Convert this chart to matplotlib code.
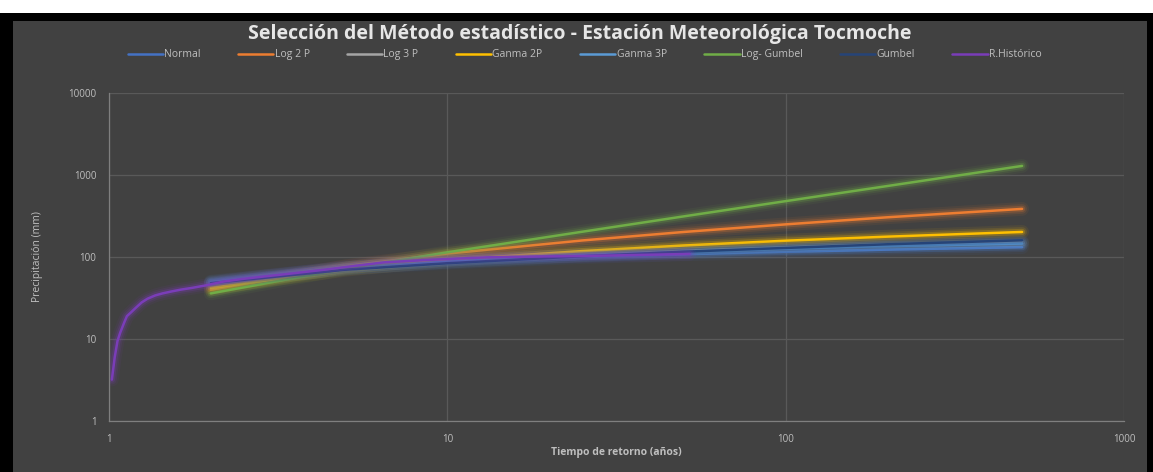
import numpy as np
import matplotlib.pyplot as plt
from matplotlib.patches import Rectangle
from matplotlib.ticker import FixedLocator, NullLocator

# periodos de retorno (años)
T = [2, 5, 10, 25, 50, 100, 200, 500]

# precipitacion maxima por metodo (mm)
normal     = [50, 74, 86, 100, 108, 116, 123, 132]
log2p      = [40, 77, 110, 159, 202, 250, 305, 386]
log3p      = [48, 72, 88, 106, 119, 131, 143, 152]
ganma2p    = [42, 70, 92, 118, 138, 158, 177, 202]
ganma3p    = [49, 73, 88, 104, 115, 126, 136, 146]
log_gumbel = [36, 72, 114, 203, 313, 480, 734, 1290]
gumbel     = [48, 70, 84, 102, 116, 129, 143, 160]

# registro historico (posicion de Weibull)
T_hist = [1.02, 1.04, 1.06, 1.08, 1.11, 1.13, 1.16, 1.20, 1.25, 1.30, 1.37,
          1.44, 1.53, 1.63, 1.76, 1.93, 2.17, 2.48, 2.89, 3.47, 4.33, 5.20,
          6.50, 8.67, 13.0, 17.3, 26.0, 52.0]
P_hist = [3.2, 6, 9.5, 12, 16, 19, 21, 24, 28, 31, 34,
          36, 38, 40, 42, 45, 50, 54, 58, 63, 70, 77,
          86, 92, 99, 101, 103, 109]

series = [
    ('Normal',      T, normal,     '#4472C4'),
    ('Log 2 P',     T, log2p,      '#ED7D31'),
    ('Log 3 P',     T, log3p,      '#A5A5A5'),
    ('Ganma 2P',    T, ganma2p,    '#FFC000'),
    ('Ganma 3P',    T, ganma3p,    '#5B9BD5'),
    ('Log- Gumbel', T, log_gumbel, '#70AD47'),
    ('Gumbel',      T, gumbel,     '#264478'),
    ('R.Histórico', T_hist, P_hist, '#7A3DB8'),
]

plt.rcParams['font.family'] = ['Open Sans', 'DejaVu Sans']

bg = '#414141'
txt = '#BFBFBF'

fig = plt.figure(figsize=(11.53, 4.72), dpi=100, facecolor='black')
# marco: franja blanca arriba, fondo gris del grafico
fig.patches.append(Rectangle((0, 0.9725), 1, 0.0275, transform=fig.transFigure,
                             facecolor='white', edgecolor='none', zorder=-2))
fig.patches.append(Rectangle((0.0113, 0), 0.9835, 0.9555, transform=fig.transFigure,
                             facecolor=bg, edgecolor='none', zorder=-2))

ax = fig.add_axes([0.0945, 0.108, 0.8803, 0.695])
ax.set_zorder(1)
ax.set_facecolor(bg)
ax.set_xscale('log')
ax.set_yscale('log')
ax.set_xlim(1, 1000)
ax.set_ylim(1, 10000)

handles = []
for name, x, y, c in series:
    # efecto de brillo alrededor de cada linea
    for lw, a in [(10, 0.07), (7, 0.12), (4.5, 0.22)]:
        ax.plot(x, y, color=c, lw=lw, alpha=a, solid_capstyle='round')
    h, = ax.plot(x, y, color=c, lw=1.8, label=name, solid_capstyle='round')
    handles.append(h)

ax.xaxis.set_major_locator(FixedLocator([1, 10, 100, 1000]))
ax.yaxis.set_major_locator(FixedLocator([1, 10, 100, 1000, 10000]))
ax.xaxis.set_minor_locator(NullLocator())
ax.yaxis.set_minor_locator(NullLocator())
ax.set_xticklabels(['1', '10', '100', '1000'])
ax.set_yticklabels(['1', '10', '100', '1000', '10000'])
ax.tick_params(colors=txt, labelsize=7, length=0, pad=9)
ax.grid(True, color='#595959', lw=0.9)
ax.set_axisbelow(True)
for s in ['top', 'right']:
    ax.spines[s].set_visible(False)
for s in ['left', 'bottom']:
    ax.spines[s].set_color('#7F7F7F')
    ax.spines[s].set_linewidth(0.9)

ax.set_xlabel('Tiempo de retorno (años)', color=txt, fontsize=7.5,
              fontweight='bold', labelpad=2)
ax.set_ylabel('Precipitación (mm)', color=txt, fontsize=7.5, labelpad=18)

fig.text(0.503, 0.928, 'Selección del Método estadístico - Estación Meteorológica Tocmoche',
         ha='center', va='center', color='#E6E6E6', fontsize=14, fontweight='bold')
fig.legend(handles=handles, loc='center', bbox_to_anchor=(0.507, 0.884), ncol=8,
           frameon=False, fontsize=7.5, labelcolor=txt, handlelength=3.4,
           handletextpad=0.1, columnspacing=3.6)

fig.savefig('out.png', dpi=100, facecolor=fig.get_facecolor())
